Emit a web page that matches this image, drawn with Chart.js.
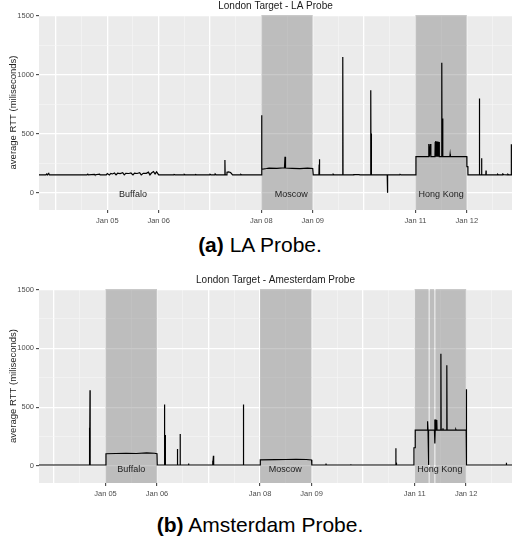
<!DOCTYPE html>
<html>
<head>
<meta charset="utf-8">
<script src="https://cdn.jsdelivr.net/npm/chart.js@4.4.0/dist/chart.umd.min.js"></script>
<style>
  body { margin: 0; background: #fff; font-family: "Liberation Sans", Arial, sans-serif; }
  #wrap { position: relative; width: 512px; height: 544px; overflow: hidden; }
  canvas { position: absolute; left: 0; }
  #laChart { top: 0; }
  #amsChart { top: 274px; }
  .caption { position: absolute; left: 0; width: 520px; text-align: center; font-size: 21px; line-height: 22px; color: #000; }
</style>
</head>
<body>
<div id="wrap">
  <canvas id="laChart" width="512" height="232"></canvas>
  <div class="caption" style="top:234px"><b>(a)</b> LA Probe.</div>
  <canvas id="amsChart" width="512" height="231"></canvas>
  <div class="caption" style="top:514px"><b>(b)</b> Amsterdam Probe.</div>
</div>
<script>
// x axis: days of January
var dayTicks = [5, 6, 8, 9, 11, 12];
var dayLabels = ['Jan 05', 'Jan 06', 'Jan 08', 'Jan 09', 'Jan 11', 'Jan 12'];
var rttTicks = [0, 500, 1000, 1500];

var regionNames = ['Buffalo', 'Moscow', 'Hong Kong'];

// LA probe
var laTime = [3.67, 3.80, 3.82, 3.83, 3.86, 3.87, 4.60, 4.62, 4.63, 4.75, 4.76, 4.85, 4.86,
  4.98, 5.00, 5.04, 5.07, 5.10, 5.14, 5.17, 5.20, 5.25, 5.30, 5.33, 5.36, 5.42, 5.46, 5.50,
  5.53, 5.58, 5.63, 5.66, 5.70, 5.76, 5.80, 5.83, 5.86, 5.90, 5.93, 5.96, 6.00,
  6.295, 6.30, 6.32, 6.495, 6.50, 6.52, 6.715, 6.72, 6.74, 6.995, 7.00, 7.02, 7.095, 7.10, 7.12,
  7.285, 7.29, 7.295, 7.325, 7.33, 7.36, 7.40, 7.44, 7.595, 7.60, 7.62,
  8.00, 8.005, 8.01, 8.10, 8.15, 8.30, 8.45, 8.46, 8.47, 8.60, 8.75, 8.90, 9.00, 9.01,
  9.12, 9.125, 9.13, 9.135, 9.395, 9.40, 9.42, 9.58, 9.585, 9.59, 9.795, 9.80, 9.90, 9.92,
  10.125, 10.13, 10.135, 10.14, 10.145, 10.45, 10.455, 10.46, 10.695, 10.70, 10.72,
  11.00, 11.01, 11.255, 11.26, 11.27, 11.29, 11.30, 11.38, 11.385, 11.39, 11.40, 11.41,
  11.42, 11.43, 11.445, 11.45, 11.46, 11.465, 11.51, 11.513, 11.517, 11.53, 11.535,
  11.67, 11.675, 11.68, 11.90, 12.00, 12.002, 12.02, 12.022,
  12.24, 12.245, 12.25, 12.285, 12.288, 12.292, 12.37, 12.374, 12.378, 12.595, 12.60, 12.62,
  12.695, 12.70, 12.72, 12.795, 12.80, 12.82, 12.862, 12.865, 12.87, 12.89];
var laRtt = [152, 152, 160, 152, 165, 152, 152, 158, 152, 157, 152, 158, 152,
  152, 163, 152, 165, 160, 168, 152, 166, 163, 170, 152, 166, 164, 168, 152,
  167, 164, 170, 152, 166, 165, 175, 152, 168, 180, 160, 178, 152,
  152, 156, 152, 152, 157, 152, 152, 155, 152, 152, 158, 152, 152, 160, 152,
  152, 278, 152, 152, 175, 178, 172, 152, 152, 157, 152,
  152, 657, 200, 206, 210, 207, 212, 306, 210, 208, 205, 209, 206, 152,
  152, 240, 284, 152, 152, 158, 152, 152, 1149, 152, 152, 155, 154, 152,
  152, 868, 152, 503, 152, 152, 0, 152, 152, 157, 152,
  152, 306, 306, 413, 306, 413, 306, 306, 430, 306, 438, 306,
  435, 306, 432, 306, 430, 306, 306, 1102, 306, 630, 306,
  306, 326, 306, 306, 306, 222, 222, 152,
  152, 798, 152, 152, 292, 152, 152, 188, 152, 152, 158, 152,
  152, 160, 155, 152, 158, 152, 152, 411, 152, 152];
var laShadeStart = [8, 11];
var laShadeEnd = [9, 12];
var laLabelX = [5.5, 8.58, 11.5];
var laLabelY = [-17, -17, -17];

// Amsterdam probe
var amsTime = [3.71, 4.688, 4.69, 4.693, 4.70, 4.703,
  5.00, 5.01, 5.20, 5.40, 5.60, 5.80, 5.95, 6.00, 6.005,
  6.14, 6.145, 6.15, 6.158, 6.163, 6.395, 6.397, 6.40, 6.448, 6.45, 6.452, 6.605, 6.61, 6.62,
  7.075, 7.08, 7.085, 7.095, 7.10, 7.675, 7.678, 7.681,
  8.00, 8.005, 8.30, 8.50, 8.70, 8.90, 9.00, 9.005, 9.275, 9.28, 9.285, 9.755, 9.76, 9.765,
  10.634, 10.636, 10.638, 10.645, 10.648,
  10.985, 10.987, 11.01, 11.012, 11.245, 11.248, 11.25, 11.258, 11.26, 11.27, 11.275,
  11.385, 11.39, 11.395, 11.40, 11.41, 11.42, 11.43, 11.435, 11.505, 11.51, 11.515,
  11.545, 11.55, 11.555, 11.62, 11.625, 11.63, 11.795, 11.80, 11.805, 12.00, 12.003, 12.006, 12.01,
  12.775, 12.78, 12.785, 12.90];
var amsRtt = [8, 8, 325, 8, 644, 8,
  8, 104, 106, 108, 106, 112, 108, 104, 8,
  8, 523, 8, 263, 8, 8, 144, 8, 8, 271, 8, 8, 20, 8,
  8, 45, 8, 87, 8, 8, 523, 8,
  8, 51, 53, 55, 57, 55, 51, 8, 8, 20, 8, 8, 15, 8,
  8, 150, 25, 25, 8,
  8, 155, 155, 305, 305, 381, 305, 376, 305, 8, 305,
  305, 396, 192, 305, 396, 305, 390, 305, 305, 955, 305,
  305, 320, 305, 305, 856, 305, 305, 310, 305, 305, 653, 305, 8,
  8, 28, 8, 8];
var amsShadeStart = [5, 8, 11, 11.295, 11.405];
var amsShadeEnd = [6, 9, 11.27, 11.38, 12];
var amsLabelX = [5.5, 8.49, 11.49];
var amsLabelY = [-32, -28, -28];

Chart.defaults.font.family = '"Liberation Sans", Arial, sans-serif';

// grey panel, shaded location boxes and their names
var panelPlugin = {
    id: 'panel',
    beforeDraw: function (chart) {
        var a = chart.chartArea, ctx = chart.ctx;
        ctx.save();
        ctx.fillStyle = '#ebebeb';
        ctx.fillRect(a.left, a.top, a.right - a.left, a.bottom - a.top);
        ctx.restore();
    },
    beforeDatasetsDraw: function (chart, args, opts) {
        var a = chart.chartArea, ctx = chart.ctx, x = chart.scales.x;
        ctx.save();
        ctx.fillStyle = 'rgba(120,120,120,0.4)';
        for (var i = 0; i < opts.start.length; i++) {
            var x0 = x.getPixelForValue(opts.start[i]);
            var x1 = x.getPixelForValue(opts.end[i]);
            ctx.fillRect(x0, a.top, x1 - x0, a.bottom - a.top);
        }
        ctx.restore();
    },
    afterDatasetsDraw: function (chart, args, opts) {
        var ctx = chart.ctx;
        ctx.save();
        ctx.fillStyle = '#222222';
        ctx.font = '9px "Liberation Sans", Arial, sans-serif';
        ctx.textAlign = 'center';
        ctx.textBaseline = 'middle';
        for (var i = 0; i < opts.names.length; i++) {
            ctx.fillText(opts.names[i], chart.scales.x.getPixelForValue(opts.labelX[i]),
                chart.scales.y.getPixelForValue(opts.labelY[i]));
        }
        ctx.restore();
    }
};

function makeChart(id, title, xMin, xMax, times, rtt, shadeStart, shadeEnd, labelX, labelY) {
    var points = times.map(function (t, i) { return { x: t, y: rtt[i] }; });
    return new Chart(document.getElementById(id).getContext('2d'), {
        type: 'line',
        data: {
            datasets: [{
                data: points,
                borderColor: '#000',
                borderWidth: 1.2,
                pointRadius: 0,
                tension: 0,
                fill: false
            }]
        },
        plugins: [panelPlugin],
        options: {
            responsive: false,
            animation: false,
            events: [],
            layout: { padding: 0 },
            plugins: {
                legend: { display: false },
                tooltip: { enabled: false },
                title: {
                    display: true,
                    text: title,
                    fullSize: false,
                    color: '#1a1a1a',
                    font: { size: 10, weight: 'normal' },
                    padding: { top: 0, bottom: 3 }
                },
                panel: {
                    start: shadeStart, end: shadeEnd,
                    names: regionNames, labelX: labelX, labelY: labelY
                }
            },
            scales: {
                x: {
                    type: 'linear',
                    min: xMin,
                    max: xMax,
                    afterFit: function (s) { s.height = 22; },
                    border: { display: false },
                    grid: {
                        color: function (c) { return Number.isInteger(c.tick.value) ? '#ffffff' : '#f6f6f6'; },
                        lineWidth: function (c) { return Number.isInteger(c.tick.value) ? 1.3 : 0.6; },
                        tickColor: function (c) { return dayTicks.indexOf(c.tick.value) >= 0 ? '#333333' : 'rgba(0,0,0,0)'; },
                        tickLength: 3,
                        tickWidth: 1
                    },
                    ticks: {
                        stepSize: 0.5,
                        includeBounds: false,
                        autoSkip: false,
                        maxRotation: 0,
                        padding: 3,
                        color: '#4d4d4d',
                        font: { size: 7.5 },
                        callback: function (v) {
                            var k = dayTicks.indexOf(v);
                            return k >= 0 ? dayLabels[k] : '';
                        }
                    }
                },
                y: {
                    min: -145,
                    max: 1505,
                    afterFit: function (s) { s.width = 39; },
                    border: { display: false },
                    title: {
                        display: true,
                        text: 'average RTT (miliseconds)',
                        color: '#222222',
                        font: { size: 9.5 },
                        padding: { top: 8, bottom: 0 }
                    },
                    grid: {
                        color: function (c) { return c.tick.value % 500 === 0 ? '#ffffff' : '#f6f6f6'; },
                        lineWidth: function (c) { return c.tick.value % 500 === 0 ? 1.3 : 0.6; },
                        tickColor: function (c) { return rttTicks.indexOf(c.tick.value) >= 0 ? '#333333' : 'rgba(0,0,0,0)'; },
                        tickLength: 3,
                        tickWidth: 1
                    },
                    ticks: {
                        stepSize: 250,
                        includeBounds: false,
                        autoSkip: false,
                        padding: 2,
                        color: '#4d4d4d',
                        font: { size: 7.5 },
                        callback: function (v) { return rttTicks.indexOf(v) >= 0 ? String(v) : ''; }
                    }
                }
            }
        }
    });
}

document.addEventListener('DOMContentLoaded', function () {
    makeChart('laChart', 'London Target - LA Probe', 3.67, 12.88,
        laTime, laRtt, laShadeStart, laShadeEnd, laLabelX, laLabelY);
    makeChart('amsChart', 'London Target - Amesterdam Probe', 3.71, 12.89,
        amsTime, amsRtt, amsShadeStart, amsShadeEnd, amsLabelX, amsLabelY);
});
</script>
</body>
</html>
